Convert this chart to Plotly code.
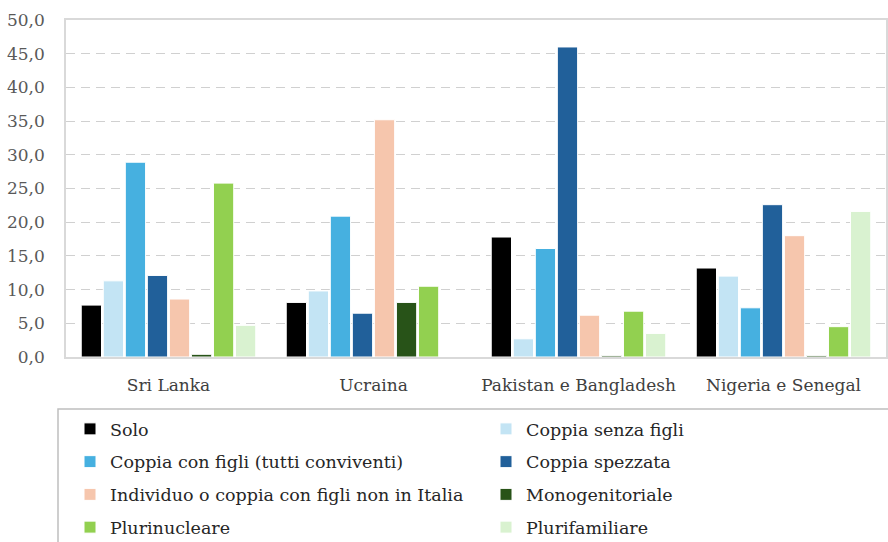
import plotly.graph_objects as go

categories = ["Sri Lanka", "Ucraina", "Pakistan e Bangladesh", "Nigeria e Senegal"]

series_names = [
    "Solo",
    "Coppia senza figli",
    "Coppia con figli (tutti conviventi)",
    "Coppia spezzata",
    "Individuo o coppia con figli non in Italia",
    "Monogenitoriale",
    "Plurinucleare",
    "Plurifamiliare",
]

solo = [7.7, 8.1, 17.8, 13.2]
coppia_senza_figli = [11.3, 9.8, 2.7, 12.0]
coppia_con_figli = [28.9, 20.9, 16.1, 7.3]
coppia_spezzata = [12.1, 6.5, 46.0, 22.6]
individuo_figli_non_italia = [8.6, 35.2, 6.2, 18.0]
monogenitoriale = [0.4, 8.1, 0.2, 0.2]
plurinucleare = [25.8, 10.5, 6.8, 4.5]
plurifamiliare = [4.7, 0.0, 3.5, 21.6]

series_values = [
    solo, coppia_senza_figli, coppia_con_figli, coppia_spezzata,
    individuo_figli_non_italia, monogenitoriale, plurinucleare, plurifamiliare,
]

colors = ["#000000", "#C3E4F4", "#46B0E0", "#21609A",
          "#F6C6AD", "#285318", "#92D050", "#D9F2D0"]

legend_ids = ["legend", "legend2", "legend", "legend2",
              "legend", "legend2", "legend", "legend2"]

fig = go.Figure()
for i, (name, vals) in enumerate(zip(series_names, series_values)):
    fig.add_trace(go.Bar(
        x=categories, y=vals, name=name,
        marker=dict(color=colors[i], line=dict(color="white", width=1)),
        legend=legend_ids[i], legendgroup=name,
    ))

font_family = "DejaVu Serif"

legend_common = dict(
    orientation="v", yanchor="top", xanchor="left",
    font=dict(family=font_family, size=17.5, color="#262626"),
    bgcolor="rgba(0,0,0,0)", tracegroupgap=7, itemwidth=30,
)

fig.update_layout(
    width=888, height=542,
    margin=dict(l=66, r=2, t=20, b=185, autoexpand=False),
    plot_bgcolor="white", paper_bgcolor="white",
    barmode="group", bargap=0.14, bargroupgap=0.08,
    separators=",.",
    font=dict(family=font_family, size=17, color="#404040"),
    legend=dict(x=(70 - 66) / 820, y=(357 - 411) / 337, **legend_common),
    legend2=dict(x=(486 - 66) / 820, y=(357 - 411) / 337, **legend_common),
    shapes=[dict(
        type="rect", xref="paper", yref="paper",
        x0=(58 - 66) / 820, x1=(892 - 66) / 820,
        y0=(357 - 409) / 337, y1=(357 - 548) / 337,
        line=dict(color="#BFBFBF", width=1.5), fillcolor="rgba(0,0,0,0)",
        layer="below",
    )],
)

fig.update_xaxes(
    automargin=False,
    showline=True, linecolor="#D9D9D9", linewidth=1.5, mirror=True,
    ticks="", ticklabelstandoff=12,
    tickfont=dict(family=font_family, size=17, color="#404040"),
)
fig.update_yaxes(
    automargin=False,
    range=[0, 50], dtick=5, tickformat=".1f",
    showgrid=True, gridcolor="#D0D0D0", griddash="9px,6px", gridwidth=1,
    showline=True, linecolor="#D9D9D9", linewidth=1.5, mirror=True,
    zeroline=False, ticks="", ticklabelstandoff=16,
    tickfont=dict(family=font_family, size=17, color="#595959"),
)

fig.write_html(
    "out.html",
    config={"displayModeBar": False},
    post_script="document.body.style.margin='0';",
)
